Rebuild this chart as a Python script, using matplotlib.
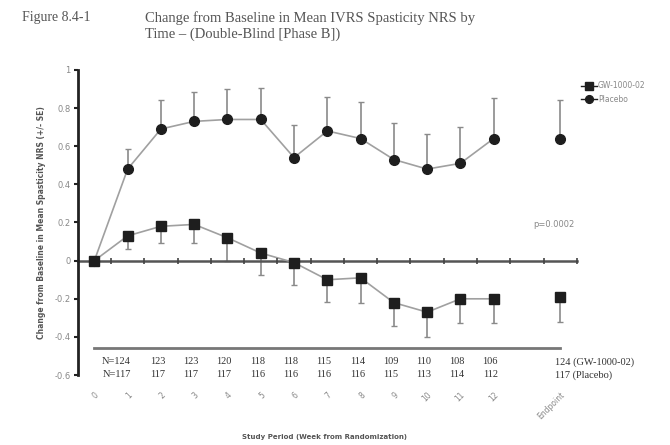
import matplotlib.pyplot as plt
import numpy as np

# dati
settimane = ['0', '1', '2', '3', '4', '5', '6', '7', '8', '9', '10', '11', '12', 'Endpoint']
pos = [0, 1, 2, 3, 4, 5, 6, 7, 8, 9, 10, 11, 12, 14]

gw_media = [0, 0.13, 0.18, 0.19, 0.12, 0.04, -0.01, -0.10, -0.09, -0.22, -0.27, -0.20, -0.20, -0.19]
gw_se = [0, 0.07, 0.086, 0.10, 0.12, 0.115, 0.12, 0.117, 0.13, 0.125, 0.13, 0.125, 0.125, 0.13]

placebo_media = [0, 0.48, 0.69, 0.73, 0.74, 0.74, 0.54, 0.68, 0.64, 0.53, 0.48, 0.51, 0.64, 0.64]
placebo_se = [0, 0.105, 0.15, 0.155, 0.16, 0.165, 0.17, 0.18, 0.19, 0.19, 0.185, 0.19, 0.21, 0.20]

n_gw = ['N=124', '123', '123', '120', '118', '118', '115', '114', '109', '110', '108', '106', '124 (GW-1000-02)']
n_placebo = ['N=117', '117', '117', '117', '116', '116', '116', '116', '115', '113', '114', '112', '117 (Placebo)']
n_pos = [1, 2, 3, 4, 5, 6, 7, 8, 9, 10, 11, 12, 14]

fig = plt.figure(figsize=(6.7, 4.45), dpi=100)
ax = fig.add_axes([0.116, 0.157, 0.745, 0.686])

grigio = '#a0a0a0'
nero = '#1e1e1e'

# linee (solo settimane 0-12, endpoint separato)
ax.plot(pos[:13], placebo_media[:13], color=grigio, lw=1.2, zorder=2)
ax.plot(pos[:13], gw_media[:13], color=grigio, lw=1.2, zorder=2)

# barre di errore: placebo verso l'alto, GW verso il basso
ax.errorbar(pos, placebo_media, yerr=[np.zeros(len(pos)), placebo_se], fmt='none',
            ecolor='#8a8a8a', elinewidth=1.2, capsize=2, capthick=1, zorder=1)
ax.errorbar(pos, gw_media, yerr=[gw_se, np.zeros(len(pos))], fmt='none',
            ecolor='#8a8a8a', elinewidth=1.2, capsize=2, capthick=1, zorder=1)

ax.plot(pos, gw_media, 's', color=nero, ms=6.5, lw=0, zorder=3, label='GW-1000-02')
ax.plot(pos, placebo_media, 'o', color=nero, ms=7, lw=0, zorder=3, label='Placebo')

# asse x a zero con tacche
ax.plot([-0.5, 14.5], [0, 0], color='#555555', lw=1.8, zorder=1, clip_on=False)
ax.plot(np.arange(0.5, 15, 1), np.zeros(15), '|', color='#444444', ms=4, mew=1.2, clip_on=False)

# riga sopra i numeri N
ax.plot([0, 14], [-0.46, -0.46], color='#777777', lw=2, clip_on=False)
for x, a, b in zip(n_pos, n_gw, n_placebo):
    ha = 'center'
    xx = x - 0.1
    if a.startswith('N='):
        ha = 'right'
        xx = x + 0.1
    if '(' in a:
        ha = 'left'
        xx = x - 0.15
    ax.text(xx, -0.53, a, ha=ha, va='center', fontsize=7.5, family='Liberation Serif', color='#333333', clip_on=False)
    ax.text(xx, -0.598, b, ha=ha, va='center', fontsize=7.5, family='Liberation Serif', color='#333333', clip_on=False)

ax.text(13.8, 0.19, 'p=0.0002', ha='center', va='center', fontsize=6, color='#888888')

ax.set_xlim(-0.5, 14.5)
ax.set_ylim(-0.6, 1)
ax.set_yticks(np.arange(-0.6, 1.01, 0.2))
ax.set_yticklabels(['-0.6', '-0.4', '-0.2', '0', '0.2', '0.4', '0.6', '0.8', '1'], fontsize=6, color='#888888')
ax.set_xticks(pos)
ax.set_xticklabels(settimane, rotation=45, ha='right', rotation_mode='anchor', fontsize=5.5, color='#888888')
ax.tick_params(axis='x', length=0, pad=11)
ax.tick_params(axis='y', length=3, width=1.5, color='#222222', pad=2)

for s in ['top', 'right', 'bottom']:
    ax.spines[s].set_visible(False)
ax.spines['left'].set_linewidth(2)
ax.spines['left'].set_color('#222222')

ax.set_ylabel('Change from Baseline in Mean Spasticity NRS (+/- SE)', fontsize=5.5,
              fontweight='bold', color='#555555', labelpad=6)
# etichetta asse x messa a mano, sotto le etichette ruotate
fig.text(0.485, 0.018, 'Study Period (Week from Randomization)', fontsize=5, fontweight='bold',
         color='#555555', ha='center', va='center')

leg = ax.legend(loc='upper left', bbox_to_anchor=(0.995, 0.985), frameon=False, fontsize=5.5,
                handlelength=2, handletextpad=0.2, labelspacing=0.6, labelcolor='#888888',
                markerscale=0.8)
# linea nella legenda
for l in leg.get_lines():
    l.set_linestyle('-')
    l.set_color(nero)
    l.set_linewidth(1)

fig.text(0.033, 0.96, 'Figure 8.4-1', fontsize=10, family='Liberation Serif', color='#555555', va='center')
fig.text(0.216, 0.96, 'Change from Baseline in Mean IVRS Spasticity NRS by', fontsize=10.5,
         family='Liberation Serif', color='#555555', va='center')
fig.text(0.216, 0.922, 'Time \u2013 (Double-Blind [Phase B])', fontsize=10.5,
         family='Liberation Serif', color='#555555', va='center')

fig.savefig('out.png', dpi=100)
